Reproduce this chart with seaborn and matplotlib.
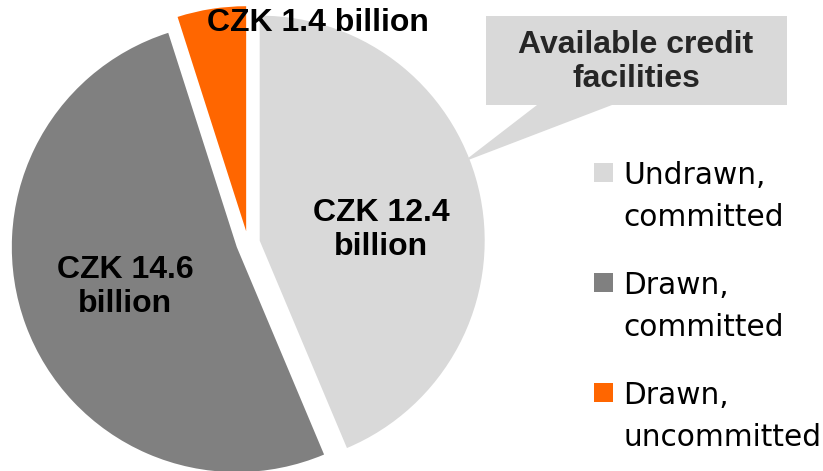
import matplotlib
matplotlib.use("Agg")
import matplotlib.pyplot as plt
from matplotlib.patches import Polygon, Rectangle
import seaborn as sns

# ---- data ----
categories = ["Undrawn,\ncommitted", "Drawn,\ncommitted", "Drawn,\nuncommitted"]
values = [12.4, 14.6, 1.4]
value_labels = ["CZK 12.4\nbillion", "CZK 14.6\nbillion", "CZK 1.4 billion"]
colors = ["#D9D9D9", "#808080", "#FF6600"]
callout_text = "Available credit\nfacilities"

sns.set_theme(style="white")
plt.rcParams["font.family"] = ["Liberation Sans", "DejaVu Sans"]

W, H = 823, 471
CX, CY, R = 248.0, 243.0, 225.0  # pie centre / radius in pixels


def px(x, y):
    """pixel position (y from top) -> data coords of a unit pie"""
    return ((x - CX) / R, (CY - y) / R)


fig = plt.figure(figsize=(W / 100, H / 100), dpi=100)
ax = fig.add_axes([0, 0, 1, 1])

wedges, texts = ax.pie(
    values,
    labels=value_labels,
    colors=colors,
    startangle=90,
    counterclock=False,
    explode=[0.053, 0.053, 0.053],
    radius=1.0,
    center=(0, 0),
    labeldistance=0.6,
    textprops=dict(fontsize=23, fontweight="bold", color="black",
                   linespacing=1.15),
    wedgeprops=dict(linewidth=0),
)
ax.set_xlim(px(0, 0)[0], px(W, 0)[0])
ax.set_ylim(px(0, H)[1], px(0, 0)[1])
ax.set_aspect("equal", adjustable="datalim")
ax.set_position([0, 0, 1, 1])
ax.axis("off")

label_pos = [px(381, 230), px(125, 287), px(318, 23)]
for t, pos in zip(texts, label_pos):
    t.set_ha("center")
    t.set_va("center")
    t.set_zorder(5)
    t.set_position(pos)

# callout box with tail
box = Polygon([px(486, 16), px(787, 16), px(787, 105), px(612, 105),
               px(463, 162), px(537, 105), px(486, 105)],
              closed=True, facecolor=colors[0], edgecolor="none", zorder=3)
ax.add_patch(box)
ax.text(*px(636, 62), callout_text, ha="center", va="center",
        fontsize=23, fontweight="bold", linespacing=1.15, zorder=6)

# legend (manual to keep square aligned with first line)
sq = 19 / R
for i, (lab, col) in enumerate(zip(categories, colors)):
    top = 163 + 110 * i
    x0, y0 = px(594, top + 19)
    ax.add_patch(Rectangle((x0, y0), sq, sq, facecolor=col, edgecolor="none"))
    ax.text(*px(623, top + 20 + 43), lab, ha="left", va="baseline",
            fontsize=21.3, family=["DejaVu Sans"], color="black",
            linespacing=1.55)

fig.savefig("out.png", dpi=100)
